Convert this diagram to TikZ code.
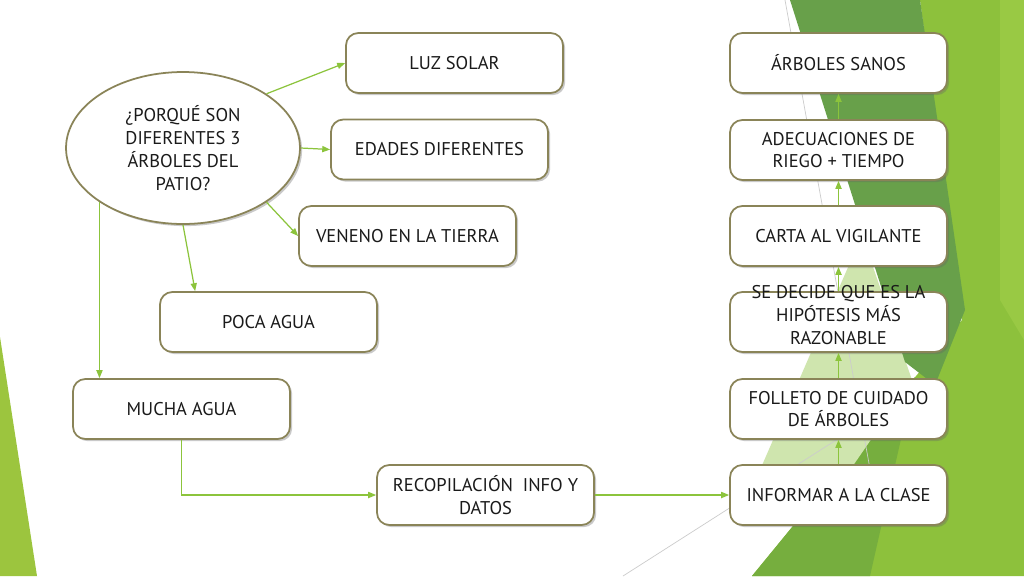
\documentclass[tikz,border=0pt]{standalone}
\usepackage{fontspec}
\setmainfont{PT Sans}
\usetikzlibrary{shapes.geometric, arrows.meta, shadows}
\definecolor{verdeflecha}{HTML}{8CC43C}
\definecolor{borde}{HTML}{8A8458}
\definecolor{verdeoscuro}{HTML}{68A04A}
\definecolor{verdeclaro}{HTML}{8DC13C}
\definecolor{verdepalido}{HTML}{CFE5AE}
\definecolor{verdemedio}{HTML}{76AE3E}
\definecolor{verdefranja}{HTML}{99C944}
\definecolor{verdeizq}{HTML}{9CC53E}
\definecolor{texto}{HTML}{1A1A1A}

\tikzset{
  caja/.style={draw=borde, line width=1pt, fill=white, rounded corners=7pt,
    minimum width=4.34cm, minimum height=1.2cm, align=center, inner sep=1pt,
    text=texto, font=\fontsize{10.5}{13}\selectfont,
    drop shadow={shadow xshift=1.2pt, shadow yshift=-1.2pt, opacity=0.35, fill=black!60}},
  pregunta/.style={ellipse, draw=borde, line width=1pt, fill=white,
    minimum width=4.68cm, minimum height=3.04cm, align=center, inner sep=0pt,
    text=texto, font=\fontsize{10.5}{13}\selectfont,
    drop shadow={shadow xshift=1.2pt, shadow yshift=-1.2pt, opacity=0.35, fill=black!60}},
  flecha/.style={draw=verdeflecha, line width=0.7pt, -{Triangle[length=4.5pt,width=3.5pt]}},
  linea/.style={draw=black!20, line width=0.4pt},
}

\begin{document}
\begin{tikzpicture}[x=0.02cm, y=-0.02cm]
    \fill[white] (0,0) rectangle (1024,576);
    \useasboundingbox (0,0) rectangle (1024,576);

    \fill[verdeizq] (0,337) -- (37,576) -- (0,576) -- cycle;
    \fill[verdeclaro] (920,0) -- (1024,0) -- (1024,576) -- (752,576) -- (962,320) -- cycle;
    \fill[verdefranja] (1000,0) -- (1024,0) -- (1024,340) -- (1000,300) -- cycle;
    \fill[verdemedio] (752,576) -- (915,377) -- (870,576) -- cycle;
    \fill[verdepalido] (862,235) -- (912,380) -- (850,470) -- (760,470) -- cycle;
    \fill[verdeoscuro] (790,0) -- (920,0) -- (965,310) -- (935,385) -- (905,362) -- cycle;
    \draw[linea] (623,576) -- (880,412);
    \draw[linea] (785,0) -- (872,480);

    \node[pregunta] (q) at (183,148) {¿PORQUÉ SON\\DIFERENTES 3\\ÁRBOLES DEL\\PATIO?};

    \node[caja] (luz) at (454.5,63) {LUZ SOLAR};
    \node[caja] (edades) at (439.5,149.5) {EDADES DIFERENTES};
    \node[caja] (veneno) at (407.5,236) {VENENO EN LA TIERRA};
    \node[caja] (poca) at (268.5,322) {POCA AGUA};
    \node[caja] (mucha) at (181.5,409) {MUCHA AGUA};
    \node[caja] (recop) at (485.5,495) {RECOPILACIÓN\ \ INFO Y\\DATOS};

    \node[caja] (sanos) at (838.5,63) {ÁRBOLES SANOS};
    \node[caja] (riego) at (838.5,150) {ADECUACIONES DE\\RIEGO + TIEMPO};
    \node[caja] (carta) at (838.5,236) {CARTA AL VIGILANTE};
    \node[caja] (hipotesis) at (838.5,322) {\smash{\begin{tabular}{@{}c@{}}SE DECIDE QUE ES LA\\HIPÓTESIS MÁS\\RAZONABLE\end{tabular}}};
    \node[caja] (folleto) at (838.5,409) {FOLLETO DE CUIDADO\\DE ÁRBOLES};
    \node[caja] (informar) at (838.5,495) {INFORMAR A LA CLASE};

    \draw[flecha] (q.33) -- (luz.west);
    \draw[flecha] (q.east) -- (edades.west);
    \draw[flecha] (q.-33) -- (veneno.west);
    \draw[flecha] (q.south) -- ([xshift=0.72cm]poca.north west);
    \draw[flecha] (q.213) -- (q.213 |- mucha.north);
    \draw[flecha] (mucha.south) |- (recop.west);
    \draw[flecha] (recop.east) -- (informar.west);
    \draw[flecha] (informar) -- (folleto);
    \draw[flecha] (folleto) -- (hipotesis);
    \draw[flecha] (hipotesis) -- (carta);
    \draw[flecha] (carta) -- (riego);
    \draw[flecha] (riego) -- (sanos);
\end{tikzpicture}
\end{document}
